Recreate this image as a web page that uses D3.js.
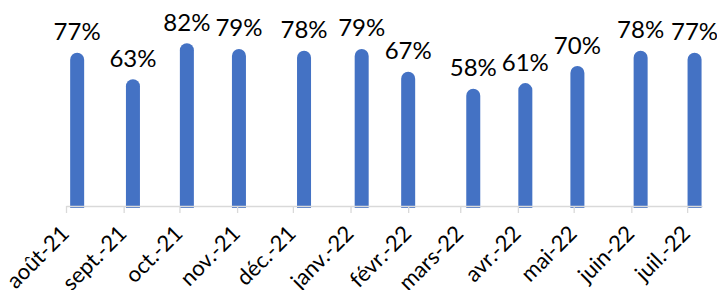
<!DOCTYPE html>
<html>
<head>
<meta charset="utf-8">
<script src="https://cdn.jsdelivr.net/npm/d3@7"></script>
<style>
	body { margin: 0; background: #fff; }
	svg { display: block; }
	.axis path, .axis line { stroke: #d9d9d9; stroke-width: 1.3; }
	.axis text { font-family: Lato, sans-serif; font-size: 22px; fill: #000; }
	.valueLabel { font-family: Lato, sans-serif; font-size: 24px; fill: #000; }
</style>
</head>
<body>
<svg id="chart" width="717" height="290"></svg>
<script>
// survey dates (one per month) and the share for each
const surveyDates = ["2021-08-07", "2021-09-06", "2021-10-05", "2021-11-02", "2021-12-07", "2022-01-07",
	"2022-02-01", "2022-03-08", "2022-04-05", "2022-05-03", "2022-06-06", "2022-07-05"]
const shares = [77, 63, 82, 79, 78, 79, 67, 58, 61, 70, 78, 77]
const tickLabels = ["août-21", "sept.-21", "oct.-21", "nov.-21", "déc.-21", "janv.-22",
	"févr.-22", "mars-22", "avr.-22", "mai-22", "juin-22", "juil.-22"]

const parse = d3.timeParse("%Y-%m-%d")
const data = surveyDates.map((d, i) => ({date: parse(d), value: shares[i]}))

const svg = d3.select("#chart")
const barW = 14, baseY = 206

const x = d3.scaleTime()
	.domain([parse("2021-08-01"), parse("2022-07-09")])
	.range([66, 702])

const y = d3.scaleLinear()
	.domain([0, 100])
	.range([baseY, 16])

const monthStarts = d3.timeMonth.range(parse("2021-08-01"), parse("2022-07-02"))

// rounded-top bar, the cap sits above the value point
function barPath(d) {
	let cx = x(d.date), r = barW / 2
	let top = y(d.value) - r, bot = baseY + 2
	return `M ${cx - r} ${bot} L ${cx - r} ${top + r} A ${r} ${r} 0 0 1 ${cx + r} ${top + r} L ${cx + r} ${bot} Z`
}

svg.append("g")
	.selectAll("path")
	.data(data)
	.join("path")
		.attr("d", barPath)
		.attr("fill", "#4472C4")

const axis = svg.append("g")
	.attr("class", "axis")
	.attr("transform", `translate(0,${baseY})`)
	.call(d3.axisBottom(x)
		.tickValues(monthStarts)
		.tickSize(7)
		.tickSizeOuter(0)
		.tickFormat((d, i) => tickLabels[i]))

axis.selectAll("text")
	.attr("text-anchor", "end")
	.attr("dy", null)
	.attr("y", null)
	.attr("transform", "translate(4,29) rotate(-45)")

svg.append("g")
	.selectAll("text")
	.data(data)
	.join("text")
		.attr("class", "valueLabel")
		.attr("text-anchor", "middle")
		.attr("x", d => x(d.date))
		.attr("y", d => y(d.value) - 19.5)
		.text(d => d.value + "%")
</script>
</body>
</html>
